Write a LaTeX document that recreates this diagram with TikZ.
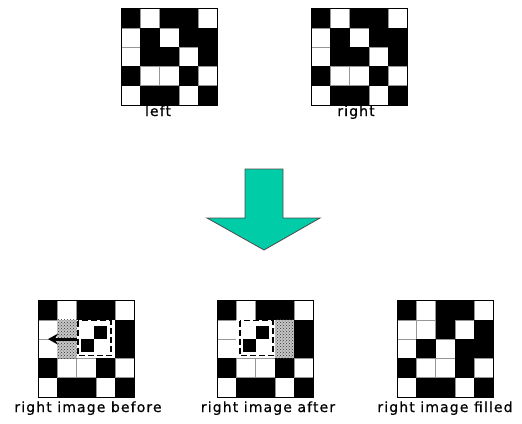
\documentclass[tikz,border=0pt]{standalone}
\usepackage{fontspec}
\newfontfamily\lblfont[LetterSpace=8,FakeBold=0.6]{DejaVu Sans}
\usetikzlibrary{%
	arrows.meta,%
	patterns,%
}
\definecolor{cteal}{RGB}{0,204,168}
\definecolor{cgridline}{RGB}{150,150,150}
\newcommand{\cellsz}{19.3}
% one 5x5 board, rows from the top, 1 = black cell
\newcommand{\board}[1]{%
	\fill[white] (0,0) rectangle (5*\cellsz,5*\cellsz);
	\foreach \i in {1,...,4} {
		\draw[cellline] (\i*\cellsz,0) -- (\i*\cellsz,5*\cellsz);
		\draw[cellline] (0,\i*\cellsz) -- (5*\cellsz,\i*\cellsz);
	}
	\foreach \row [count=\r from 0] in {#1} {
		\foreach \v [count=\c from 0] in \row {
			\ifnum\v=1 \fill[black] (\c*\cellsz,\r*\cellsz) rectangle ++(\cellsz,\cellsz);\fi
		}
	}
}
\tikzset{
	cellline/.style={draw=cgridline, line width=0.6pt},%
	boardframe/.style={draw=black, line width=1pt},%
	dotcell/.style={fill=black!22, postaction={pattern=crosshatch dots, pattern color=black!80}},%
	movebox/.style={draw=black, line width=1.2pt, dash pattern=on 6pt off 3pt},%
	moveline/.style={-{Stealth[length=10pt,width=11pt]}, line width=3pt},%
	lbl/.style={font={\lblfont\fontsize{14}{16}\selectfont}, anchor=base, inner sep=0pt},%
	bigarrow/.style={fill=cteal, draw=black!70, line width=0.8pt},%
}

\begin{document}
\begin{tikzpicture}[x=1pt, y=-1pt]%
	\useasboundingbox (0,0) rectangle (522,423);

	\begin{scope}[shift={(121,8.5)}]
		\board{{1,0,1,1,0},{0,1,0,1,1},{0,1,1,0,1},{1,0,0,1,0},{0,1,1,0,1}}
		\draw[boardframe] (0,0) rectangle (5*\cellsz,5*\cellsz);
	\end{scope}
	\node[lbl] (leftlbl) at (158,116) {left};

	\begin{scope}[shift={(311,8.5)}]
		\board{{1,0,1,1,0},{0,1,0,1,1},{0,1,1,0,1},{1,0,0,1,0},{0,1,1,0,1}}
		\draw[boardframe] (0,0) rectangle (5*\cellsz,5*\cellsz);
	\end{scope}
	\node[lbl] (rightlbl) at (356,116) {right};

	\filldraw[bigarrow] (245,169) -- (283,169) -- (283,218) -- (320,218) -- (264,250) -- (207,218) -- (245,218) -- cycle;

	% before: block cut out, moving left
	\begin{scope}[shift={(38,300.5)}]
		\board{{1,0,1,1,0},{0,0,0,0,1},{0,0,0,0,1},{1,0,0,1,0},{0,1,1,0,1}}
		\fill[white] (2*\cellsz,\cellsz) rectangle (4*\cellsz,3*\cellsz);
		\fill[dotcell] (\cellsz,\cellsz) rectangle (2*\cellsz,3*\cellsz);
		\draw[movebox] (40,20) rectangle (73,55);
		\fill (56,25) rectangle (69,38);
		\fill (43,38) rectangle (56,51);
		\coordinate (movesrc) at (39,38.6);
		\coordinate (movedst) at (10,38.6);
		\draw[moveline] (movesrc) -- (movedst);
		\draw[boardframe] (0,0) rectangle (5*\cellsz,5*\cellsz);
	\end{scope}
	\node[lbl] (beforelbl) at (88,412) {right image before};

	% after: block moved, gap left behind
	\begin{scope}[shift={(217,300.5)}]
		\board{{1,0,1,1,0},{0,0,0,0,1},{0,0,0,0,1},{1,0,0,1,0},{0,1,1,0,1}}
		\fill[white] (\cellsz,\cellsz) rectangle (3*\cellsz,3*\cellsz);
		\fill[dotcell] (3*\cellsz,\cellsz) rectangle (4*\cellsz,3*\cellsz);
		\draw[movebox] (23,20) rectangle (56,55);
		\fill (39,25) rectangle (52,38);
		\fill (26,38) rectangle (39,51);
		\draw[boardframe] (0,0) rectangle (5*\cellsz,5*\cellsz);
	\end{scope}
	\node[lbl] (afterlbl) at (268,412) {right image after};

	\begin{scope}[shift={(397,300.5)}]
		\board{{1,0,1,1,0},{0,0,1,0,1},{0,1,0,1,1},{1,0,0,1,0},{0,1,1,0,1}}
		\draw[boardframe] (0,0) rectangle (5*\cellsz,5*\cellsz);
	\end{scope}
	\node[lbl] (filledlbl) at (445,412) {right image filled};
\end{tikzpicture}
\end{document}
